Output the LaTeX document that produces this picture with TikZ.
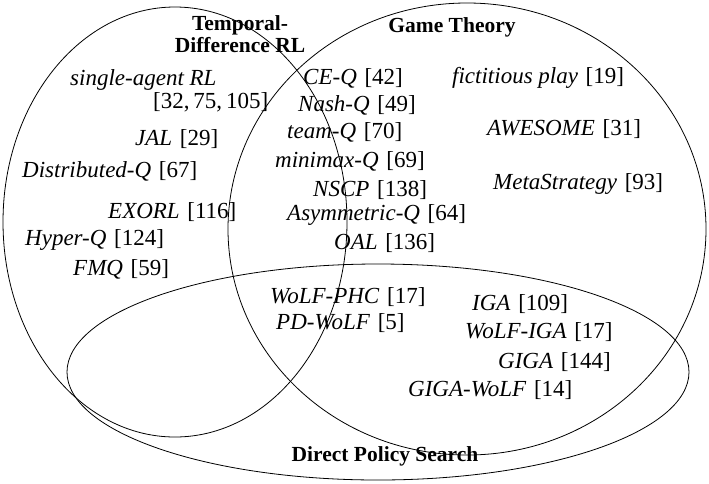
\documentclass[tikz,border=0pt]{standalone}
\usepackage{fontspec}
\setmainfont{Liberation Serif}
\tikzset{lbl/.style={anchor=west,inner sep=0pt,font=\fontsize{23}{25}\selectfont},
 ttl/.style={inner sep=0pt,font=\fontsize{21.5}{22}\selectfont\bfseries,align=center},
 set/.style={draw=black,line width=0.8pt}}
\newcommand{\alg}[2]{\textit{#1}\,\,[#2]}
\begin{document}
\begin{tikzpicture}[x=1pt,y=-1pt]
\useasboundingbox (0,0) rectangle (709,483);
\draw[set] (175,222) ellipse [x radius=172,y radius=215];
\draw[set] (467,229) ellipse [x radius=239,y radius=226];
\draw[set] (378,372) ellipse [x radius=311,y radius=108];
\node[ttl] (t1) at (240,34) {Temporal-\\Difference RL};
\node[ttl] (t2) at (452,27) {Game Theory};
\node[ttl] (t3) at (385,456) {Direct Policy Search};
\node[lbl] (a1) at (70,80) {\textit{single-agent RL}};
\node[lbl] (a2) at (153,102) {[32,\,75,\,105]};
\node[lbl] (a3) at (135,139) {\alg{JAL}{29}};
\node[lbl] (a4) at (22,171) {\alg{Distributed-Q}{67}};
\node[lbl] (a5) at (108,212) {\alg{EXORL}{116}};
\node[lbl] (a6) at (25,240) {\alg{Hyper-Q}{124}};
\node[lbl] (a7) at (73,269) {\alg{FMQ}{59}};
\node[lbl] (b1) at (303,78) {\alg{CE-Q}{42}};
\node[lbl] (b2) at (298,105) {\alg{Nash-Q}{49}};
\node[lbl] (b3) at (287,132) {\alg{team-Q}{70}};
\node[lbl] (b4) at (275,161) {\alg{minimax-Q}{69}};
\node[lbl] (b5) at (313,190) {\alg{NSCP}{138}};
\node[lbl] (b6) at (287,215) {\alg{Asymmetric-Q}{64}};
\node[lbl] (b7) at (334,243) {\alg{OAL}{136}};
\node[lbl] (c1) at (452,78) {\alg{fictitious play}{19}};
\node[lbl] (c2) at (487,129) {\alg{AWESOME}{31}};
\node[lbl] (c3) at (493,184) {\alg{MetaStrategy}{93}};
\node[lbl] (d1) at (270,297) {\alg{WoLF-PHC}{17}};
\node[lbl] (d2) at (276,323) {\alg{PD-WoLF}{5}};
\node[lbl] (e1) at (472,304) {\alg{IGA}{109}};
\node[lbl] (e2) at (465,332) {\alg{WoLF-IGA}{17}};
\node[lbl] (e3) at (498,362) {\alg{GIGA}{144}};
\node[lbl] (e4) at (408,390) {\alg{GIGA-WoLF}{14}};
\end{tikzpicture}
\end{document}
